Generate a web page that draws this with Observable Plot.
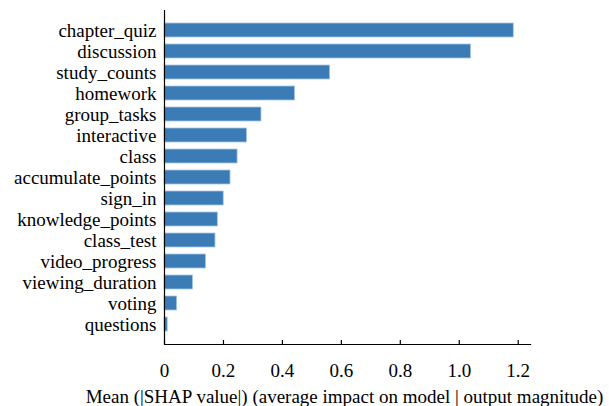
<!DOCTYPE html>
<html>
<head>
<meta charset="utf-8">
<script src="https://cdn.jsdelivr.net/npm/d3@7"></script>
<script src="https://cdn.jsdelivr.net/npm/@observablehq/plot@0.6"></script>
<style>
  html, body { margin: 0; padding: 0; background: #fff; }
</style>
</head>
<body>
<div id="chart"></div>
<script>
const features = ["chapter_quiz","discussion","study_counts","homework","group_tasks","interactive","class","accumulate_points","sign_in","knowledge_points","class_test","video_progress","viewing_duration","voting","questions"];
const meanShap = [1.185,1.040,0.562,0.443,0.329,0.280,0.248,0.224,0.201,0.181,0.173,0.141,0.097,0.043,0.011];
const xTicks = [0, 0.2, 0.4, 0.6, 0.8, 1.0, 1.2];
const xTickLabels = ["0", "0.2", "0.4", "0.6", "0.8", "1.0", "1.2"];
const xLabel = "Mean (|SHAP value|) (average impact on model | output magnitude)";

const data = features.map((f, i) => ({feature: f, value: meanShap[i]}));
const serif = "Liberation Serif";

const chart = Plot.plot({
  width: 609,
  height: 406,
  marginLeft: 164,
  marginRight: 79,
  marginTop: 10,
  marginBottom: 62,
  style: {fontSize: "19px", color: "#000", background: "#fff"},
  x: {domain: [0, 1.2417]},
  y: {domain: features, padding: 0.35, paddingOuter: 0.6},
  marks: [
    Plot.barX(data, {x: "value", y: "feature", fill: "#3b7cb6", stroke: "#a8c8e6", strokeWidth: 0.8}),
    Plot.ruleX([0], {stroke: "#000", strokeWidth: 1.2}),
    Plot.frame({anchor: "bottom", stroke: "#000", strokeWidth: 1.2}),
    Plot.axisY({tickSize: 0, tickPadding: 8, fontSize: 19, label: null}),
    Plot.axisX(xTicks, {tickSize: 4, dy: -4, text: null, label: null, stroke: "#000", strokeWidth: 1.2}),
    Plot.text(xTicks, {x: d => d, text: (d, i) => xTickLabels[i], frameAnchor: "bottom", dy: 32, fontSize: 19, textAnchor: "middle", fill: "#000"}),
    Plot.text([xLabel], {frameAnchor: "bottom", dy: 58, dx: -3, fontSize: 19, textAnchor: "middle", fill: "#000"})
  ]
});
chart.setAttribute("font-family", serif);
chart.style.setProperty("font-family", serif, "important");
chart.querySelectorAll("g, text, tspan").forEach(el => {
  if (el.hasAttribute("font-family")) el.setAttribute("font-family", serif);
  el.style.setProperty("font-family", serif, "important");
});
document.getElementById("chart").appendChild(chart);
</script>
</body>
</html>
